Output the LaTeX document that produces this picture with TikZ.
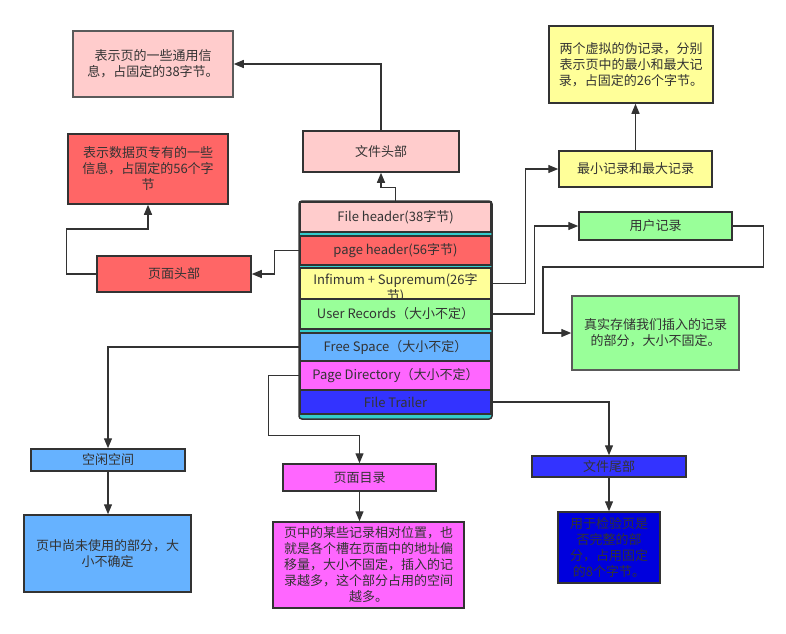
\documentclass[tikz,border=0pt]{standalone}
\usepackage{fontspec}
\setmainfont{Noto Sans CJK SC}
\usetikzlibrary{arrows.meta}
\definecolor{dark}{HTML}{333333}
\definecolor{grayedge}{HTML}{5A5A5A}
\definecolor{pinkfill}{HTML}{FFCCCC}
\definecolor{redfill}{HTML}{FF6666}
\definecolor{yellowfill}{HTML}{FFFF99}
\definecolor{greenfill}{HTML}{99FF99}
\definecolor{skyfill}{HTML}{66B2FF}
\definecolor{magentafill}{HTML}{FF66FF}
\definecolor{bluefill}{HTML}{3333FF}
\definecolor{deepfill}{HTML}{0000DD}
\definecolor{sepcolor}{HTML}{33CCCC}
\begin{document}
\begin{tikzpicture}[x=1pt,y=-1pt,
	font=\fontsize{13}{16}\selectfont,
	box/.style={draw=dark,line width=1.5pt,text=dark,align=center,inner sep=0pt},
	row/.style={box,line width=1.2pt,minimum width=191pt},
	link/.style={draw=dark,line width=1.3pt,-{Triangle[length=10pt,width=8pt]}}]
\useasboundingbox (0,0) rectangle (786,633);
% the page and its parts
\draw [draw=dark,fill=sepcolor,line width=1.5pt,rounded corners=3pt] (299,201) rectangle (492,419);
\node (fh) [row,fill=pinkfill,minimum height=30pt] at (395.5,217) {File header(38字节)};
\node (ph) [row,fill=redfill,minimum height=29pt] at (395.5,250.5) {page header(56字节)};
\node (inf) [row,fill=yellowfill,minimum height=31pt] at (395.5,283.5) {};
\node (inftext) [text=dark,align=center,inner sep=0pt] at (395.5,288) {Infimum + Supremum(26字\\节)};
\node (ur) [row,fill=greenfill,minimum height=30pt] at (395.5,314) {User Records（大小不定）};
\node (fs) [row,fill=skyfill,minimum height=28pt] at (395.5,347) {Free Space（大小不定）};
\node (pd) [row,fill=magentafill,minimum height=29pt] at (395.5,375.5) {Page Directory（大小不定）};
\node (ft) [row,fill=bluefill,minimum height=24pt] at (395.5,402) {File Trailer};
% names of the parts
\node (wjtb) [box,fill=pinkfill,minimum width=156pt,minimum height=41pt] at (381,151.5) {文件头部};
\node (ymtb) [box,fill=redfill,minimum width=154pt,minimum height=36pt] at (174,274) {页面头部};
\node (minmax) [box,fill=yellowfill,minimum width=153pt,minimum height=36pt] at (635.5,169) {最小记录和最大记录};
\node (yhjl) [box,fill=greenfill,minimum width=153pt,minimum height=28pt] at (655.5,226) {用户记录};
\node (kxkj) [box,fill=skyfill,minimum width=154pt,minimum height=22pt] at (108,460) {空闲空间};
\node (ymml) [box,fill=magentafill,minimum width=153pt,minimum height=27pt] at (359.5,477.5) {页面目录};
\node (wjwb) [box,fill=bluefill,minimum width=154pt,minimum height=21pt] at (609,466.5) {文件尾部};
% what they hold
\node (info1) [box,draw=grayedge,fill=pinkfill,minimum width=160pt,minimum height=66pt] at (153,64) {表示页的一些通用信\\息，占固定的38字节。};
\node (info2) [box,fill=redfill,minimum width=160pt,minimum height=70pt] at (148,169) {表示数据页专有的一些\\信息，占固定的56个字\\节};
\node (info3) [box,fill=yellowfill,minimum width=164pt,minimum height=77pt] at (631,64.5) {两个虚拟的伪记录，分别\\表示页中的最小和最大记\\录，占固定的26个字节。};
\node (info4) [box,draw=grayedge,fill=greenfill,minimum width=167pt,minimum height=74pt] at (655.5,333) {真实存储我们插入的记录\\的部分，大小不固定。};
\node (info5) [box,fill=skyfill,minimum width=167pt,minimum height=77pt] at (107.5,553.5) {页中尚未使用的部分，大\\小不确定};
\node (info6) [box,fill=magentafill,minimum width=191pt,minimum height=86pt] at (368.5,565) {页中的某些记录相对位置，也\\就是各个槽在页面中的地址偏\\移量，大小不固定，插入的记\\录越多，这个部分占用的空间\\越多。};
\node (info7) [box,fill=deepfill,minimum width=102pt,minimum height=71pt] at (609,547.5) {用于检验页是\\否完整的部\\分，占用固定\\的8个字节。};
% links
\coordinate (urbend) at (543,267);
\draw [link] (fh.north) -- ++(0,-14) -| (wjtb.south);
\draw [link] (wjtb.north) |- (info1.east);
\draw [link] (ph.west) -- ++(-25,0) |- (ymtb.east);
\draw [link] (ymtb.west) -- ++(-30,0) -- ++(0,-45) -| (info2.south);
\draw [link] (inf.east) -- ++(34,0) |- (minmax.west);
\draw [link] (minmax.north) -- (minmax.north |- info3.south);
\draw [link] (ur.east) -- ++(43,0) |- (yhjl.west);
\draw [link] (yhjl.east) -- ++(31,0) |- (urbend) |- (info4.west);
\draw [link] (fs.west) -| (kxkj.north);
\draw [link] (kxkj.south) -- (kxkj.south |- info5.north);
\draw [link] (pd.west) -- ++(-31,0) -- ++(0,60) -| (ymml.north);
\draw [link] (ymml.south) -- (ymml.south |- info6.north);
\draw [link] (ft.east) -| (wjwb.north);
\draw [link] (wjwb.south) -- (info7.north);
\end{tikzpicture}
\end{document}
